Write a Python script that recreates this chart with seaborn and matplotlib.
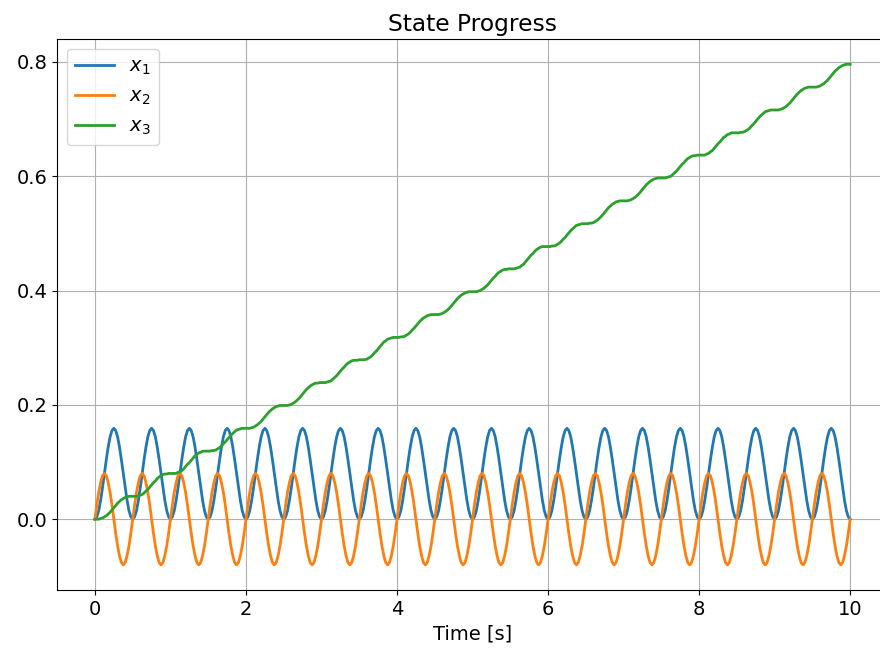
import numpy as np
import matplotlib
matplotlib.use('Agg')
import matplotlib.pyplot as plt
import seaborn as sns

# Time grid: 0 to 10 s, 0.025 s step (401 samples)
time = np.linspace(0, 10, 401)

# x1: one row per 0.5 s period
x1 = [
    0.000, 0.004, 0.015, 0.033, 0.055, 0.080, 0.104, 0.126, 0.144, 0.155, 0.159, 0.155, 0.144, 0.126, 0.104, 0.080, 0.055, 0.033, 0.015, 0.004,
    0.000, 0.004, 0.015, 0.033, 0.055, 0.080, 0.104, 0.126, 0.144, 0.155, 0.159, 0.155, 0.144, 0.126, 0.104, 0.080, 0.055, 0.033, 0.015, 0.004,
    0.000, 0.004, 0.015, 0.033, 0.055, 0.080, 0.104, 0.126, 0.144, 0.155, 0.159, 0.155, 0.144, 0.126, 0.104, 0.080, 0.055, 0.033, 0.015, 0.004,
    0.000, 0.004, 0.015, 0.033, 0.055, 0.080, 0.104, 0.126, 0.144, 0.155, 0.159, 0.155, 0.144, 0.126, 0.104, 0.080, 0.055, 0.033, 0.015, 0.004,
    0.000, 0.004, 0.015, 0.033, 0.055, 0.080, 0.104, 0.126, 0.144, 0.155, 0.159, 0.155, 0.144, 0.126, 0.104, 0.080, 0.055, 0.033, 0.015, 0.004,
    0.000, 0.004, 0.015, 0.033, 0.055, 0.080, 0.104, 0.126, 0.144, 0.155, 0.159, 0.155, 0.144, 0.126, 0.104, 0.080, 0.055, 0.033, 0.015, 0.004,
    0.000, 0.004, 0.015, 0.033, 0.055, 0.080, 0.104, 0.126, 0.144, 0.155, 0.159, 0.155, 0.144, 0.126, 0.104, 0.080, 0.055, 0.033, 0.015, 0.004,
    0.000, 0.004, 0.015, 0.033, 0.055, 0.080, 0.104, 0.126, 0.144, 0.155, 0.159, 0.155, 0.144, 0.126, 0.104, 0.080, 0.055, 0.033, 0.015, 0.004,
    0.000, 0.004, 0.015, 0.033, 0.055, 0.080, 0.104, 0.126, 0.144, 0.155, 0.159, 0.155, 0.144, 0.126, 0.104, 0.080, 0.055, 0.033, 0.015, 0.004,
    0.000, 0.004, 0.015, 0.033, 0.055, 0.080, 0.104, 0.126, 0.144, 0.155, 0.159, 0.155, 0.144, 0.126, 0.104, 0.080, 0.055, 0.033, 0.015, 0.004,
    0.000, 0.004, 0.015, 0.033, 0.055, 0.080, 0.104, 0.126, 0.144, 0.155, 0.159, 0.155, 0.144, 0.126, 0.104, 0.080, 0.055, 0.033, 0.015, 0.004,
    0.000, 0.004, 0.015, 0.033, 0.055, 0.080, 0.104, 0.126, 0.144, 0.155, 0.159, 0.155, 0.144, 0.126, 0.104, 0.080, 0.055, 0.033, 0.015, 0.004,
    0.000, 0.004, 0.015, 0.033, 0.055, 0.080, 0.104, 0.126, 0.144, 0.155, 0.159, 0.155, 0.144, 0.126, 0.104, 0.080, 0.055, 0.033, 0.015, 0.004,
    0.000, 0.004, 0.015, 0.033, 0.055, 0.080, 0.104, 0.126, 0.144, 0.155, 0.159, 0.155, 0.144, 0.126, 0.104, 0.080, 0.055, 0.033, 0.015, 0.004,
    0.000, 0.004, 0.015, 0.033, 0.055, 0.080, 0.104, 0.126, 0.144, 0.155, 0.159, 0.155, 0.144, 0.126, 0.104, 0.080, 0.055, 0.033, 0.015, 0.004,
    0.000, 0.004, 0.015, 0.033, 0.055, 0.080, 0.104, 0.126, 0.144, 0.155, 0.159, 0.155, 0.144, 0.126, 0.104, 0.080, 0.055, 0.033, 0.015, 0.004,
    0.000, 0.004, 0.015, 0.033, 0.055, 0.080, 0.104, 0.126, 0.144, 0.155, 0.159, 0.155, 0.144, 0.126, 0.104, 0.080, 0.055, 0.033, 0.015, 0.004,
    0.000, 0.004, 0.015, 0.033, 0.055, 0.080, 0.104, 0.126, 0.144, 0.155, 0.159, 0.155, 0.144, 0.126, 0.104, 0.080, 0.055, 0.033, 0.015, 0.004,
    0.000, 0.004, 0.015, 0.033, 0.055, 0.080, 0.104, 0.126, 0.144, 0.155, 0.159, 0.155, 0.144, 0.126, 0.104, 0.080, 0.055, 0.033, 0.015, 0.004,
    0.000, 0.004, 0.015, 0.033, 0.055, 0.080, 0.104, 0.126, 0.144, 0.155, 0.159, 0.155, 0.144, 0.126, 0.104, 0.080, 0.055, 0.033, 0.015, 0.004,
    0.000,
]

x2 = [
    0.000, 0.025, 0.047, 0.064, 0.076, 0.080, 0.076, 0.064, 0.047, 0.025, 0.000, -0.025, -0.047, -0.064, -0.076, -0.080, -0.076, -0.064, -0.047, -0.025,
    0.000, 0.025, 0.047, 0.064, 0.076, 0.080, 0.076, 0.064, 0.047, 0.025, 0.000, -0.025, -0.047, -0.064, -0.076, -0.080, -0.076, -0.064, -0.047, -0.025,
    0.000, 0.025, 0.047, 0.064, 0.076, 0.080, 0.076, 0.064, 0.047, 0.025, 0.000, -0.025, -0.047, -0.064, -0.076, -0.080, -0.076, -0.064, -0.047, -0.025,
    0.000, 0.025, 0.047, 0.064, 0.076, 0.080, 0.076, 0.064, 0.047, 0.025, 0.000, -0.025, -0.047, -0.064, -0.076, -0.080, -0.076, -0.064, -0.047, -0.025,
    0.000, 0.025, 0.047, 0.064, 0.076, 0.080, 0.076, 0.064, 0.047, 0.025, 0.000, -0.025, -0.047, -0.064, -0.076, -0.080, -0.076, -0.064, -0.047, -0.025,
    0.000, 0.025, 0.047, 0.064, 0.076, 0.080, 0.076, 0.064, 0.047, 0.025, 0.000, -0.025, -0.047, -0.064, -0.076, -0.080, -0.076, -0.064, -0.047, -0.025,
    0.000, 0.025, 0.047, 0.064, 0.076, 0.080, 0.076, 0.064, 0.047, 0.025, 0.000, -0.025, -0.047, -0.064, -0.076, -0.080, -0.076, -0.064, -0.047, -0.025,
    0.000, 0.025, 0.047, 0.064, 0.076, 0.080, 0.076, 0.064, 0.047, 0.025, 0.000, -0.025, -0.047, -0.064, -0.076, -0.080, -0.076, -0.064, -0.047, -0.025,
    0.000, 0.025, 0.047, 0.064, 0.076, 0.080, 0.076, 0.064, 0.047, 0.025, 0.000, -0.025, -0.047, -0.064, -0.076, -0.080, -0.076, -0.064, -0.047, -0.025,
    0.000, 0.025, 0.047, 0.064, 0.076, 0.080, 0.076, 0.064, 0.047, 0.025, 0.000, -0.025, -0.047, -0.064, -0.076, -0.080, -0.076, -0.064, -0.047, -0.025,
    0.000, 0.025, 0.047, 0.064, 0.076, 0.080, 0.076, 0.064, 0.047, 0.025, 0.000, -0.025, -0.047, -0.064, -0.076, -0.080, -0.076, -0.064, -0.047, -0.025,
    0.000, 0.025, 0.047, 0.064, 0.076, 0.080, 0.076, 0.064, 0.047, 0.025, 0.000, -0.025, -0.047, -0.064, -0.076, -0.080, -0.076, -0.064, -0.047, -0.025,
    0.000, 0.025, 0.047, 0.064, 0.076, 0.080, 0.076, 0.064, 0.047, 0.025, 0.000, -0.025, -0.047, -0.064, -0.076, -0.080, -0.076, -0.064, -0.047, -0.025,
    0.000, 0.025, 0.047, 0.064, 0.076, 0.080, 0.076, 0.064, 0.047, 0.025, 0.000, -0.025, -0.047, -0.064, -0.076, -0.080, -0.076, -0.064, -0.047, -0.025,
    0.000, 0.025, 0.047, 0.064, 0.076, 0.080, 0.076, 0.064, 0.047, 0.025, 0.000, -0.025, -0.047, -0.064, -0.076, -0.080, -0.076, -0.064, -0.047, -0.025,
    0.000, 0.025, 0.047, 0.064, 0.076, 0.080, 0.076, 0.064, 0.047, 0.025, 0.000, -0.025, -0.047, -0.064, -0.076, -0.080, -0.076, -0.064, -0.047, -0.025,
    0.000, 0.025, 0.047, 0.064, 0.076, 0.080, 0.076, 0.064, 0.047, 0.025, 0.000, -0.025, -0.047, -0.064, -0.076, -0.080, -0.076, -0.064, -0.047, -0.025,
    0.000, 0.025, 0.047, 0.064, 0.076, 0.080, 0.076, 0.064, 0.047, 0.025, 0.000, -0.025, -0.047, -0.064, -0.076, -0.080, -0.076, -0.064, -0.047, -0.025,
    0.000, 0.025, 0.047, 0.064, 0.076, 0.080, 0.076, 0.064, 0.047, 0.025, 0.000, -0.025, -0.047, -0.064, -0.076, -0.080, -0.076, -0.064, -0.047, -0.025,
    0.000, 0.025, 0.047, 0.064, 0.076, 0.080, 0.076, 0.064, 0.047, 0.025, 0.000, -0.025, -0.047, -0.064, -0.076, -0.080, -0.076, -0.064, -0.047, -0.025,
    0.000,
]

# x3: staircase ramp, flat spots every 0.5 s
x3 = [
    0.000, 0.000, 0.000, 0.001, 0.002, 0.004, 0.006, 0.009, 0.012, 0.016, 0.020, 0.024, 0.028, 0.031, 0.034, 0.036, 0.038, 0.039, 0.040, 0.040,
    0.040, 0.040, 0.040, 0.041, 0.042, 0.043, 0.046, 0.049, 0.052, 0.056, 0.060, 0.064, 0.067, 0.071, 0.074, 0.076, 0.078, 0.079, 0.079, 0.080,
    0.080, 0.080, 0.080, 0.080, 0.082, 0.083, 0.085, 0.088, 0.092, 0.096, 0.099, 0.103, 0.107, 0.111, 0.113, 0.116, 0.117, 0.119, 0.119, 0.119,
    0.119, 0.119, 0.120, 0.120, 0.121, 0.123, 0.125, 0.128, 0.132, 0.135, 0.139, 0.143, 0.147, 0.150, 0.153, 0.156, 0.157, 0.158, 0.159, 0.159,
    0.159, 0.159, 0.159, 0.160, 0.161, 0.163, 0.165, 0.168, 0.171, 0.175, 0.179, 0.183, 0.187, 0.190, 0.193, 0.195, 0.197, 0.198, 0.199, 0.199,
    0.199, 0.199, 0.199, 0.200, 0.201, 0.203, 0.205, 0.208, 0.211, 0.215, 0.219, 0.223, 0.227, 0.230, 0.233, 0.235, 0.237, 0.238, 0.238, 0.239,
    0.239, 0.239, 0.239, 0.240, 0.241, 0.242, 0.245, 0.248, 0.251, 0.255, 0.259, 0.263, 0.266, 0.270, 0.273, 0.275, 0.277, 0.278, 0.278, 0.278,
    0.279, 0.279, 0.279, 0.279, 0.280, 0.282, 0.284, 0.287, 0.291, 0.294, 0.298, 0.302, 0.306, 0.310, 0.312, 0.315, 0.316, 0.317, 0.318, 0.318,
    0.318, 0.318, 0.319, 0.319, 0.320, 0.322, 0.324, 0.327, 0.331, 0.334, 0.338, 0.342, 0.346, 0.349, 0.352, 0.354, 0.356, 0.357, 0.358, 0.358,
    0.358, 0.358, 0.358, 0.359, 0.360, 0.362, 0.364, 0.367, 0.370, 0.374, 0.378, 0.382, 0.386, 0.389, 0.392, 0.394, 0.396, 0.397, 0.398, 0.398,
    0.398, 0.398, 0.398, 0.399, 0.400, 0.402, 0.404, 0.407, 0.410, 0.414, 0.418, 0.422, 0.425, 0.429, 0.432, 0.434, 0.436, 0.437, 0.437, 0.438,
    0.438, 0.438, 0.438, 0.439, 0.440, 0.441, 0.444, 0.446, 0.450, 0.454, 0.458, 0.462, 0.465, 0.469, 0.472, 0.474, 0.476, 0.477, 0.477, 0.477,
    0.477, 0.477, 0.478, 0.478, 0.479, 0.481, 0.483, 0.486, 0.490, 0.493, 0.497, 0.501, 0.505, 0.508, 0.511, 0.514, 0.515, 0.516, 0.517, 0.517,
    0.517, 0.517, 0.518, 0.518, 0.519, 0.521, 0.523, 0.526, 0.529, 0.533, 0.537, 0.541, 0.545, 0.548, 0.551, 0.553, 0.555, 0.556, 0.557, 0.557,
    0.557, 0.557, 0.557, 0.558, 0.559, 0.561, 0.563, 0.566, 0.569, 0.573, 0.577, 0.581, 0.585, 0.588, 0.591, 0.593, 0.595, 0.596, 0.597, 0.597,
    0.597, 0.597, 0.597, 0.598, 0.599, 0.600, 0.603, 0.606, 0.609, 0.613, 0.617, 0.621, 0.624, 0.628, 0.631, 0.633, 0.635, 0.636, 0.636, 0.637,
    0.637, 0.637, 0.637, 0.637, 0.639, 0.640, 0.643, 0.645, 0.649, 0.653, 0.657, 0.660, 0.664, 0.668, 0.670, 0.673, 0.674, 0.676, 0.676, 0.676,
    0.676, 0.676, 0.677, 0.677, 0.678, 0.680, 0.682, 0.685, 0.689, 0.692, 0.696, 0.700, 0.704, 0.707, 0.710, 0.713, 0.714, 0.715, 0.716, 0.716,
    0.716, 0.716, 0.716, 0.717, 0.718, 0.720, 0.722, 0.725, 0.728, 0.732, 0.736, 0.740, 0.744, 0.747, 0.750, 0.752, 0.754, 0.755, 0.756, 0.756,
    0.756, 0.756, 0.756, 0.757, 0.758, 0.760, 0.762, 0.765, 0.768, 0.772, 0.776, 0.780, 0.784, 0.787, 0.790, 0.792, 0.794, 0.795, 0.796, 0.796,
    0.796,
]

series_labels = ['$x_1$', '$x_2$', '$x_3$']

plt.rcParams['font.size'] = 14

fig, ax = plt.subplots(figsize=(8.8, 6.54), dpi=100)
for values, label in zip([x1, x2, x3], series_labels):
    sns.lineplot(x=time, y=values, label=label, linewidth=2, ax=ax)

ax.set_title('State Progress')
ax.set_xlabel('Time [s]')
ax.grid(True)
ax.legend(loc='upper left')

# axes runs slightly past the right edge in the reference
fig.subplots_adjust(left=0.065, right=1.009, top=0.940, bottom=0.098)
plt.savefig('out.png', dpi=100)
plt.close()
